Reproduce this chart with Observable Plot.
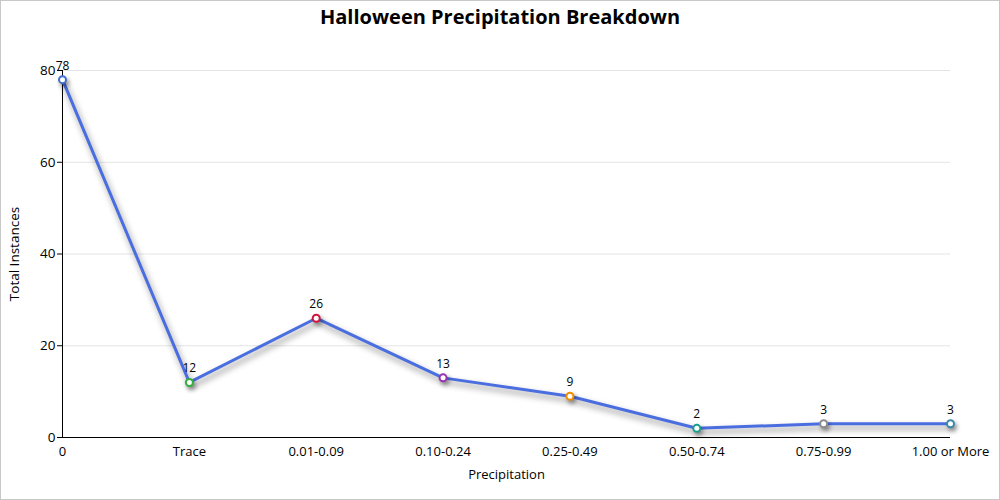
<!DOCTYPE html>
<html><head><meta charset="utf-8">
<script src="https://cdn.jsdelivr.net/npm/d3@7"></script>
<script src="https://cdn.jsdelivr.net/npm/@observablehq/plot@0.6"></script>
<style>
html,body{margin:0;padding:0;background:#fff;}
#wrap{position:relative;width:1000px;height:500px;overflow:hidden;font-family:"Open Sans","Noto Sans",sans-serif;}
#border{position:absolute;left:0;top:0;width:998px;height:498px;border:1px solid #c8c8c8;pointer-events:none;}
#title{height:34px;line-height:34px;text-align:center;font-size:20px;font-weight:bold;color:#000;}
svg g[aria-label="line"]{filter:drop-shadow(2px 4px 3px rgba(0,0,0,0.45));}
svg g[aria-label="dot"]{filter:drop-shadow(2px 3px 2px rgba(0,0,0,0.4));}
</style></head>
<body><div id="wrap"><div id="title">Halloween Precipitation Breakdown</div><div id="chart"></div><div id="border"></div></div>
<script>
const categories = ["0","Trace","0.01-0.09","0.10-0.24","0.25-0.49","0.50-0.74","0.75-0.99","1.00 or More"];
const values = [78,12,26,13,9,2,3,3];
const pointColors = ["#3f6fd0","#33b03c","#d0143c","#9a32b4","#f08c00","#1a9e8c","#8c8c8c","#3a88aa"];
const yTicks = [0,20,40,60,80];

const data = categories.map((c,i)=>({cat:c, value:values[i], color:pointColors[i]}));

const chart = Plot.plot({
  width: 1000,
  height: 466,
  marginTop: 36,
  marginBottom: 63,
  marginLeft: 62,
  marginRight: 50,
  style: {fontSize: "13px", fontFamily: '"Open Sans","Noto Sans",sans-serif', color: "#000", background: "transparent"},
  x: {type: "point", domain: categories, padding: 0, round: false},
  y: {domain: [0, 80]},
  marks: [
    Plot.gridY(yTicks, {stroke: "#e4e4e4", strokeOpacity: 1}),
    Plot.axisY(yTicks, {tickSize: 5, tickPadding: 2, fontSize: 13.5, label: "Total Instances", labelAnchor: "center", labelArrow: "none", labelOffset: 53}),
    Plot.axisX({tickSize: 0, tickPadding: 9, label: "Precipitation", labelAnchor: "center", labelOffset: 41}),
    Plot.ruleY([0], {stroke: "#000", strokeWidth: 1}),
    Plot.ruleX([categories[0]], {y1: 0, y2: 80, stroke: "#000", strokeWidth: 1}),
    Plot.line(data, {x: "cat", y: "value", stroke: "#4a6ee0", strokeWidth: 3}),
    Plot.dot(data, {x: "cat", y: "value", r: 3.5, fill: "#fff", stroke: d => d.color, strokeWidth: 2}),
    Plot.text(data, {x: "cat", y: "value", text: d => String(d.value), dy: -14, fontSize: 12, fill: "#000"})
  ]
});
document.getElementById("chart").appendChild(chart);
</script>
</body></html>
